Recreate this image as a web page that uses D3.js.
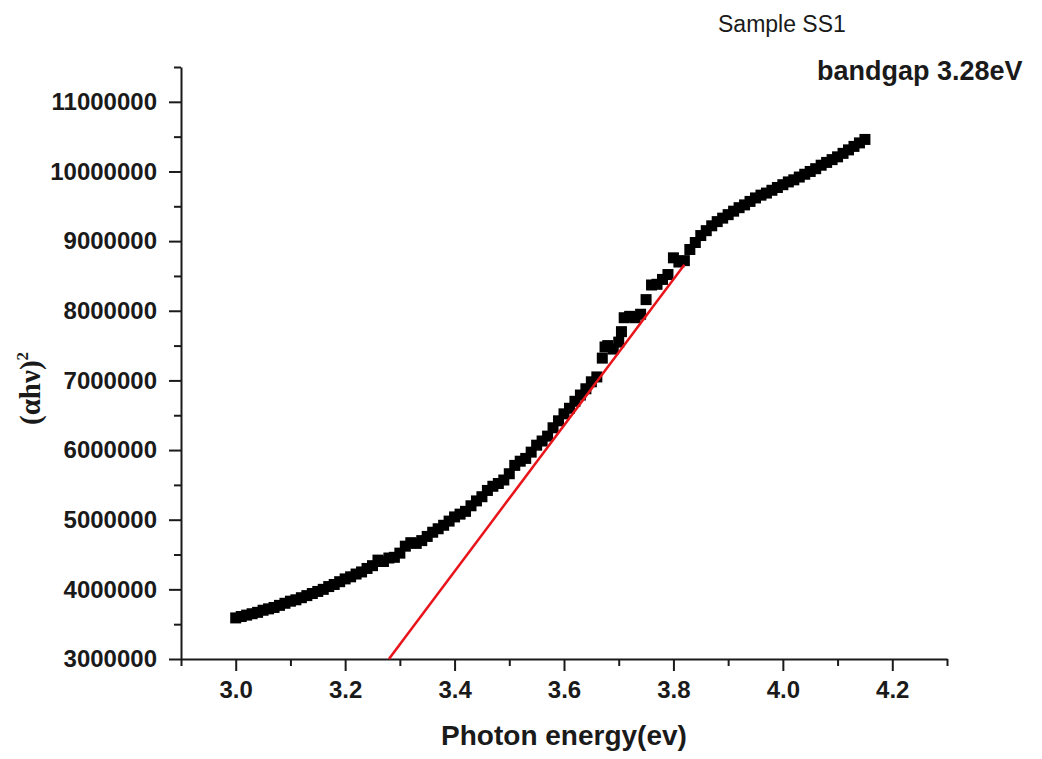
<!DOCTYPE html>
<html>
<head>
<meta charset="utf-8">
<script src="https://cdn.jsdelivr.net/npm/d3@7"></script>
<style>
  body { margin: 0; background: #fff; }
  #chart { width: 1042px; height: 759px; }
</style>
</head>
<body>
<div id="chart"></div>
<script>
// Photon energy (eV) of each measured point
const energy = [
  3.00, 3.01, 3.02, 3.03, 3.04, 3.05, 3.06, 3.07, 3.08, 3.09,
  3.10, 3.11, 3.12, 3.13, 3.14, 3.15, 3.16, 3.17, 3.18, 3.19,
  3.20, 3.21, 3.22, 3.23, 3.24, 3.25, 3.26, 3.27, 3.28, 3.29,
  3.30, 3.31, 3.32, 3.33, 3.34, 3.35, 3.36, 3.37, 3.38, 3.39,
  3.40, 3.41, 3.42, 3.43, 3.44, 3.45, 3.46, 3.47, 3.48, 3.49,
  3.50, 3.51, 3.52, 3.53, 3.54, 3.55, 3.56, 3.57, 3.58, 3.59,
  3.60, 3.61, 3.62, 3.63, 3.64, 3.65, 3.66, 3.67, 3.675, 3.68,
  3.69, 3.70, 3.705, 3.71, 3.72, 3.73, 3.74, 3.75, 3.76, 3.77,
  3.78, 3.79, 3.80, 3.81, 3.82, 3.83, 3.84, 3.85, 3.86, 3.87,
  3.88, 3.89, 3.90, 3.91, 3.92, 3.93, 3.94, 3.95, 3.96, 3.97,
  3.98, 3.99, 4.00, 4.01, 4.02, 4.03, 4.04, 4.05, 4.06, 4.07,
  4.08, 4.09, 4.10, 4.11, 4.12, 4.13, 4.14, 4.15
];

// (alpha h nu)^2 in millions
const absorb = [
  3.59, 3.61, 3.63, 3.65, 3.67, 3.70, 3.72, 3.74, 3.77, 3.80,
  3.83, 3.85, 3.88, 3.91, 3.94, 3.97, 4.00, 4.04, 4.07, 4.11,
  4.15, 4.18, 4.22, 4.25, 4.30, 4.34, 4.42, 4.40, 4.45, 4.46,
  4.52, 4.62, 4.67, 4.66, 4.70, 4.76, 4.82, 4.87, 4.92, 4.98,
  5.04, 5.08, 5.12, 5.20, 5.27, 5.33, 5.42, 5.48, 5.52, 5.57,
  5.66, 5.78, 5.84, 5.88, 5.97, 6.07, 6.13, 6.20, 6.32, 6.42,
  6.52, 6.60, 6.70, 6.79, 6.88, 6.98, 7.05, 7.32, 7.48, 7.50,
  7.45, 7.55, 7.70, 7.90, 7.92, 7.90, 7.95, 8.16, 8.37, 8.38,
  8.45, 8.52, 8.76, 8.70, 8.72, 8.88, 8.98, 9.08, 9.15, 9.22,
  9.28, 9.33, 9.38, 9.43, 9.48, 9.52, 9.57, 9.62, 9.66, 9.69,
  9.73, 9.77, 9.81, 9.85, 9.88, 9.92, 9.96, 10.00, 10.04, 10.09,
  10.13, 10.17, 10.21, 10.26, 10.31, 10.36, 10.41, 10.46
];

const fitEnergy = [3.28, 3.82];
const fitAbsorb = [3.0, 8.66];

// Axis ticks
const xTicks = [3.0, 3.2, 3.4, 3.6, 3.8, 4.0, 4.2];
const xMinorTicks = [2.9, 3.1, 3.3, 3.5, 3.7, 3.9, 4.1, 4.3];
const yTicks = [3000000, 4000000, 5000000, 6000000, 7000000, 8000000, 9000000, 10000000, 11000000];
const yMinorTicks = [3500000, 4500000, 5500000, 6500000, 7500000, 8500000, 9500000, 10500000, 11500000];

const containerWidth = 1042;
const containerHeight = 759;
const margin = { top: 67, right: 95, bottom: 100, left: 181 };
const width = containerWidth - margin.left - margin.right;
const height = containerHeight - margin.top - margin.bottom;

const root = d3.select("#chart")
  .append("svg")
  .attr("width", containerWidth)
  .attr("height", containerHeight);

const svg = root.append("g")
  .attr("transform", `translate(${margin.left},${margin.top})`);

const x = d3.scaleLinear().domain([2.9, 4.3]).range([0, width]);
const y = d3.scaleLinear().domain([3000000, 11500000]).range([height, 0]);

const axisColor = "#1a1a1a";
const tickFont = "'Liberation Sans', Arial, sans-serif";

// Minor ticks first, then major ticks with labels
svg.append("g")
  .attr("transform", `translate(0,${height})`)
  .call(d3.axisBottom(x).tickValues(xMinorTicks).tickSize(7).tickFormat(""))
  .call(g => g.select(".domain").remove());

svg.append("g")
  .call(d3.axisLeft(y).tickValues(yMinorTicks).tickSize(7).tickFormat(""))
  .call(g => g.select(".domain").remove());

const xAxis = svg.append("g")
  .attr("transform", `translate(0,${height})`)
  .call(d3.axisBottom(x).tickValues(xTicks).tickSize(12).tickSizeOuter(0).tickPadding(10)
    .tickFormat(d3.format(".1f")));

const yAxis = svg.append("g")
  .call(d3.axisLeft(y).tickValues(yTicks).tickSize(12).tickSizeOuter(0).tickPadding(12)
    .tickFormat(d => d.toString()));

svg.selectAll(".tick line, .domain")
  .attr("stroke", axisColor)
  .attr("stroke-width", 2);

xAxis.selectAll("text")
  .attr("font-family", tickFont)
  .attr("font-weight", "bold")
  .attr("font-size", 24)
  .attr("fill", axisColor);

yAxis.selectAll("text")
  .attr("font-family", tickFont)
  .attr("font-weight", "bold")
  .attr("font-size", 24)
  .attr("fill", axisColor);

// Measured points as square markers
const size = 11;
svg.append("g")
  .selectAll("rect")
  .data(energy.map((e, i) => ({ e, a: absorb[i] * 1e6 })))
  .join("rect")
  .attr("x", d => x(d.e) - size / 2)
  .attr("y", d => y(d.a) - size / 2)
  .attr("width", size)
  .attr("height", size)
  .attr("fill", "#000");

// Fit line
svg.append("line")
  .attr("x1", x(fitEnergy[0]))
  .attr("y1", y(fitAbsorb[0] * 1e6))
  .attr("x2", x(fitEnergy[1]))
  .attr("y2", y(fitAbsorb[1] * 1e6))
  .attr("stroke", "#e8141c")
  .attr("stroke-width", 2.5);

// Axis titles
svg.append("text")
  .attr("x", width / 2)
  .attr("y", 86)
  .attr("transform", `translate(0,${height})`)
  .attr("text-anchor", "middle")
  .attr("font-family", tickFont)
  .attr("font-weight", "bold")
  .attr("font-size", 28)
  .attr("fill", axisColor)
  .text("Photon energy(ev)");

const yLabel = root.append("text")
  .attr("transform", "translate(40,425) rotate(-90)")
  .attr("text-anchor", "start")
  .attr("font-family", "'Liberation Serif', 'Times New Roman', serif")
  .attr("font-weight", "bold")
  .attr("font-size", 29)
  .attr("fill", axisColor);
yLabel.append("tspan").text("(αhν)");
yLabel.append("tspan").attr("dy", -12).attr("font-size", 17).text("2");

// Annotations
root.append("text")
  .attr("x", 718)
  .attr("y", 32)
  .attr("font-family", tickFont)
  .attr("font-size", 23)
  .attr("fill", axisColor)
  .text("Sample SS1");

root.append("text")
  .attr("x", 817)
  .attr("y", 80)
  .attr("font-family", tickFont)
  .attr("font-weight", "bold")
  .attr("font-size", 27)
  .attr("fill", axisColor)
  .text("bandgap 3.28eV");
</script>
</body>
</html>
